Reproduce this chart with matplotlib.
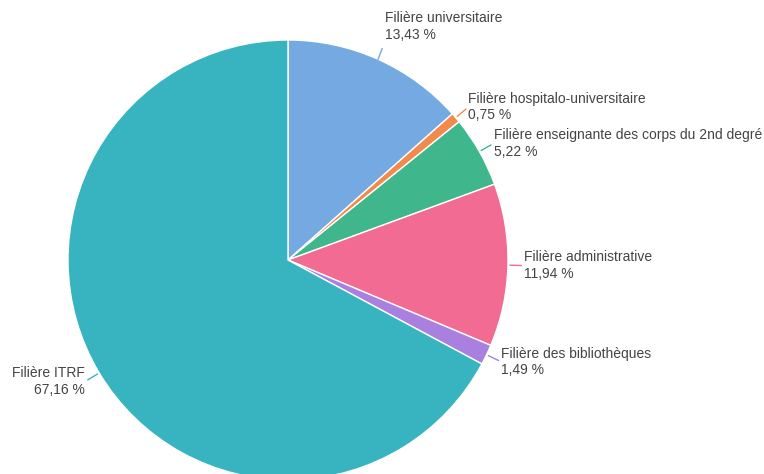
import numpy as np
import matplotlib.pyplot as plt

plt.rcParams['font.family'] = ['Liberation Sans', 'DejaVu Sans']

# donnees
filieres = ['Filière universitaire', 'Filière hospitalo-universitaire',
            'Filière enseignante des corps du 2nd degré', 'Filière administrative',
            'Filière des bibliothèques', 'Filière ITRF']
parts = [13.43, 0.75, 5.22, 11.94, 1.49, 67.16]
etiquettes = ['13,43 %', '0,75 %', '5,22 %', '11,94 %', '1,49 %', '67,16 %']
couleurs = ['#74a9e1', '#f28a4e', '#3fb68b', '#f16b93', '#a97fdf', '#38b4c1']

fig = plt.figure(figsize=(7.64, 4.74), dpi=100)
ax = fig.add_axes([0, 0, 1, 1])

wedges, _ = ax.pie(parts, colors=couleurs, startangle=90, counterclock=False,
                   radius=1, wedgeprops=dict(edgecolor='white', linewidth=1))

# petit decalage vertical en plus pour certaines etiquettes
decal_y = [0.08, 0, 0, 0, 0, 0]

for w, nom, lab, c, dy in zip(wedges, filieres, etiquettes, couleurs, decal_y):
    ang = np.deg2rad((w.theta1 + w.theta2) / 2)
    x, y = np.cos(ang), np.sin(ang)
    # trait de liaison
    if dy > 0:
        ax.plot([1.0 * x, 1.02 * x + 0.01], [1.0 * y, 1.02 * y + 0.03], color=c, lw=1)
    else:
        ax.plot([1.01 * x, 1.06 * x], [1.01 * y, 1.06 * y], color=c, lw=1)
    cote = 'left' if x >= 0 else 'right'
    ax.text(1.075 * x, 1.075 * y + dy, nom + '\n' + lab, ha=cote, va='center',
            fontsize=10, color='#444444', linespacing=1.25, multialignment=cote)

ax.set_xlim(-288 / 220, (764 - 288) / 220)
ax.set_ylim(-(474 - 260) / 220, 260 / 220)
ax.set_aspect('equal')
ax.axis('off')

fig.savefig('out.png', dpi=100)
